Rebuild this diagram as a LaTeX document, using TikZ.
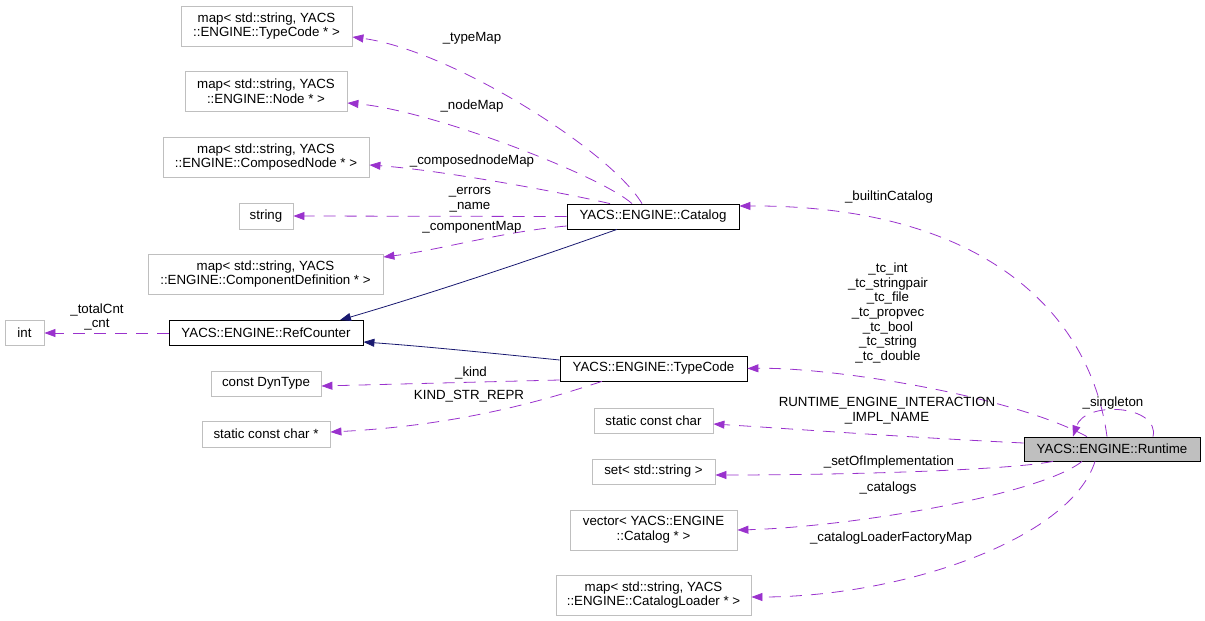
\documentclass[tikz,border=0pt]{standalone}
\usepackage{fontspec}
\setmainfont{Liberation Sans}
\usetikzlibrary{arrows.meta}
\definecolor{purp}{HTML}{9A32CD}
\definecolor{navyb}{HTML}{191970}
\definecolor{gbord}{HTML}{BFBFBF}
\tikzset{
  txt/.style={font=\fontsize{13.3}{14.7}\selectfont},
  box/.style={txt, draw=gbord, line width=0.8pt, inner sep=0pt, align=center},
  cls/.style={box, draw=black},
  mainbox/.style={box, draw=black, fill=gbord},
  uses/.style={draw=purp, line width=0.8pt, dash pattern=on 12pt off 9pt, -{Triangle[length=11pt,width=8pt]}},
  inh/.style={draw=navyb, line width=0.8pt, -{Triangle[length=11pt,width=8pt]}},
  lbl/.style={txt, align=center, inner sep=0pt}
}
\begin{document}
\begin{tikzpicture}[x=1pt,y=-1pt]
\useasboundingbox (0,0) rectangle (1205,621);
% nodes
\node[box, minimum width=171pt, minimum height=40pt] (tm) at (266.5,26) {map< std::string, YACS\\::ENGINE::TypeCode * >};
\node[box, minimum width=162pt, minimum height=40pt] (nm) at (266,91) {map< std::string, YACS\\::ENGINE::Node * >};
\node[box, minimum width=206pt, minimum height=40pt] (cn) at (266,157) {map< std::string, YACS\\::ENGINE::ComposedNode * >};
\node[box, minimum width=54pt, minimum height=26pt] (str) at (266,216) {string};
\node[box, minimum width=235pt, minimum height=40pt] (cd) at (265.5,274) {map< std::string, YACS\\::ENGINE::ComponentDefinition * >};
\node[box, minimum width=39pt, minimum height=25pt] (int) at (24.5,333) {int};
\node[cls, minimum width=194pt, minimum height=25pt] (rc) at (266,333) {YACS::ENGINE::RefCounter};
\node[box, minimum width=110pt, minimum height=25pt] (dyn) at (266,383.5) {const DynType};
\node[box, minimum width=128pt, minimum height=26pt] (scp) at (266,434) {static const char *};
\node[cls, minimum width=172pt, minimum height=25pt] (cat) at (653,216.5) {YACS::ENGINE::Catalog};
\node[cls, minimum width=187pt, minimum height=25pt] (tc) at (653.5,368.5) {YACS::ENGINE::TypeCode};
\node[box, minimum width=119pt, minimum height=25pt] (sc) at (653.5,420.5) {static const char};
\node[box, minimum width=123pt, minimum height=25pt] (set) at (653.5,471.5) {set< std::string >};
\node[box, minimum width=167pt, minimum height=40pt] (vec) at (653.5,530) {vector< YACS::ENGINE\\::Catalog * >};
\node[box, minimum width=195pt, minimum height=40pt] (ml) at (653.5,595) {map< std::string, YACS\\::ENGINE::CatalogLoader * >};
\node[mainbox, minimum width=176pt, minimum height=24pt] (rt) at (1112,449) {YACS::ENGINE::Runtime};

% inheritance
\draw[inh] ([xshift=-36pt]cat.south) .. controls (525,262) and (432,293) .. ([xshift=74pt]rc.north);
\draw[inh] ([yshift=8.5pt]tc.west) .. controls (480,352) and (420,346) .. ([yshift=-9pt]rc.east);

% Catalog members
\draw[uses] ([xshift=-11pt]cat.north) .. controls (610,150) and (450,50) .. ([yshift=-11pt]tm.east);
\draw[uses] ([xshift=-21pt]cat.north) .. controls (600,175) and (430,110) .. ([yshift=-12pt]nm.east);
\draw[uses] ([xshift=-43pt]cat.north) .. controls (560,192) and (440,170) .. ([yshift=-8pt]cn.east);
\draw[uses] (cat.west) -- (str.east);
\draw[uses] ([yshift=-9.5pt]cat.west) .. controls (500,232) and (440,250) .. ([yshift=17pt]cd.east);
\node[lbl] (l1) at (472,38) {\_typeMap};
\node[lbl] (l2) at (472,106) {\_nodeMap};
\node[lbl] (l3) at (472,161) {\_composednodeMap};
\node[lbl] (l4) at (470,200) {\_errors\\\_name};
\node[lbl] (l5) at (472,227) {\_componentMap};

% RefCounter members
\draw[uses] (rc.west) -- (int.east);
\node[lbl] (l6) at (97,317) {\_totalCnt\\\_cnt};

% TypeCode members
\draw[uses] ([yshift=-11.5pt]tc.west) -- ([yshift=-2.5pt]dyn.east);
\draw[uses] ([xshift=-51.5pt]tc.south) .. controls (560,395) and (470,425) .. ([yshift=2pt]scp.east);
\node[lbl] (l7) at (471,373) {\_kind};
\node[lbl] (l8) at (469,396) {KIND\_STR\_REPR};

% Runtime members
\draw[uses] ([xshift=-5pt]rt.north) .. controls (1090,310) and (980,205) .. ([yshift=10.5pt]cat.east);
\draw[uses] ([xshift=-25pt]rt.north) .. controls (1010,395) and (830,367) .. (tc.east);
\draw[uses] ([xshift=41pt]rt.north) .. controls (1160,405) and (1085,400) .. ([xshift=-39pt]rt.north);
\draw[uses] ([yshift=6pt]rt.west) .. controls (900,437) and (780,428) .. ([yshift=-3.5pt]sc.east);
\draw[uses] ([xshift=-59pt]rt.south) .. controls (1010,470) and (850,475) .. ([yshift=-3.5pt]set.east);
\draw[uses] ([xshift=-30pt]rt.south) .. controls (1040,495) and (850,527) .. (vec.east);
\draw[uses] ([xshift=-17pt]rt.south) .. controls (1070,540) and (900,597) .. ([yshift=-2pt]ml.east);
\node[lbl] (l9) at (889,197) {\_builtinCatalog};
\node[lbl] (l10) at (888,313) {\_tc\_int\\\_tc\_stringpair\\\_tc\_file\\\_tc\_propvec\\\_tc\_bool\\\_tc\_string\\\_tc\_double};
\node[lbl] (l11) at (887,411) {RUNTIME\_ENGINE\_INTERACTION\\\_IMPL\_NAME};
\node[lbl] (l12) at (1113,403) {\_singleton};
\node[lbl] (l13) at (889,462) {\_setOfImplementation};
\node[lbl] (l14) at (888,488) {\_catalogs};
\node[lbl] (l15) at (891,538) {\_catalogLoaderFactoryMap};
\end{tikzpicture}
\end{document}
